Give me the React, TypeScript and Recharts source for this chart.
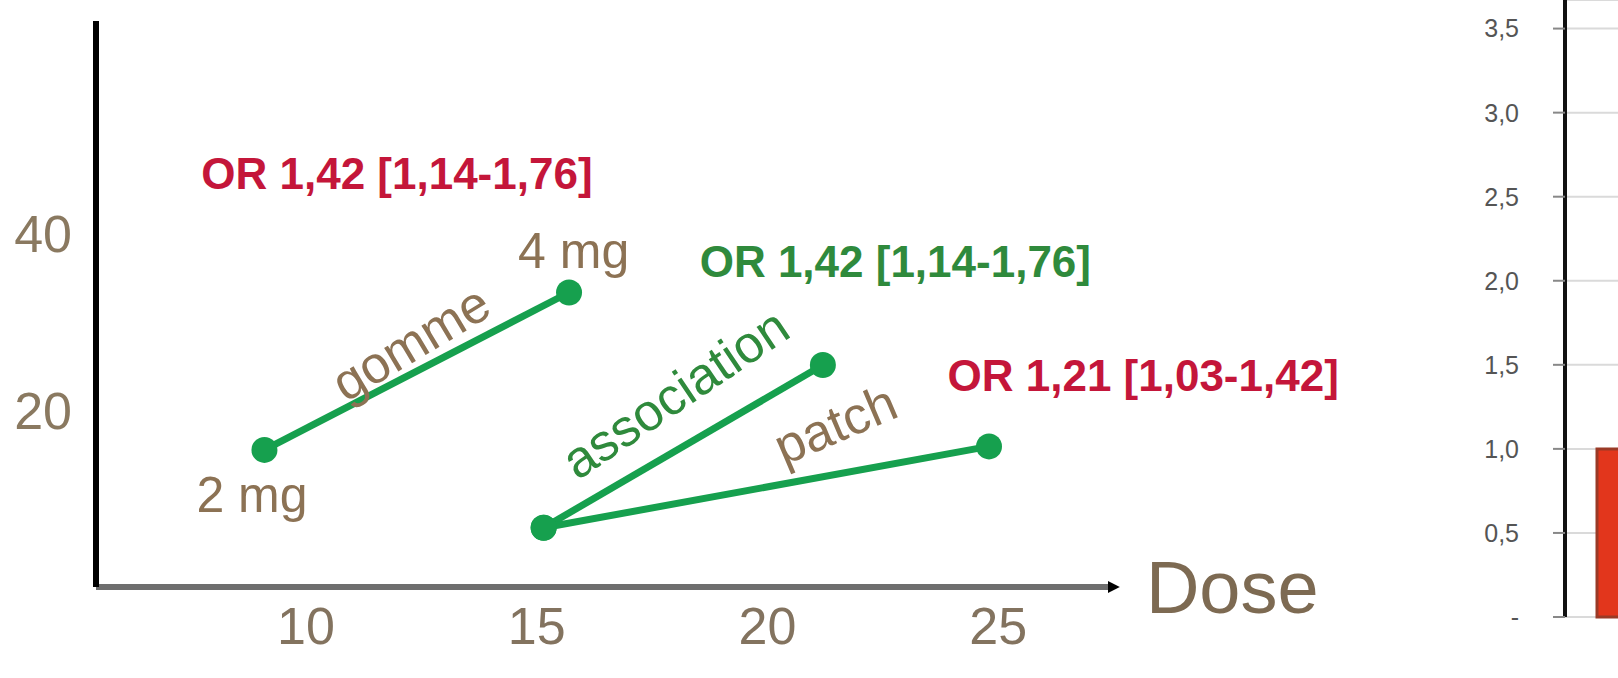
import React from "react"
import {
  ScatterChart,
  Scatter,
  XAxis,
  YAxis,
  ReferenceDot,
  BarChart,
  Bar,
  CartesianGrid,
} from "recharts"

// left panel: nicotine level vs dose
const doseTicks = [10, 15, 20, 25]
const levelTicks = [20, 40]

const gommeDoses = [9.1, 15.7]
const gommeLevels = [15.5, 33.3]
const associationDoses = [15.15, 21.2]
const associationLevels = [6.7, 25.1]
const patchDoses = [15.15, 24.8]
const patchLevels = [6.7, 15.9]

const noteTexts = [
  "OR 1,42 [1,14-1,76]",
  "4 mg",
  "2 mg",
  "gomme",
  "OR 1,42 [1,14-1,76]",
  "association",
  "patch",
  "OR 1,21 [1,03-1,42]",
  "Dose",
]
const noteDoses = [11.97, 15.8, 8.83, 12.27, 22.77, 18.0, 21.47, 28.14, 28.2]
const noteLevels = [46.8, 38.0, 10.45, 27.6, 36.8, 21.9, 18.4, 23.9, 0]

// right panel: odds ratios
const orCategories = ["gomme"]
const orValues = [1.0]
const orTicks = [0, 0.5, 1, 1.5, 2, 2.5, 3, 3.5]

const toPoints = (xs: number[], ys: number[]) => xs.map((x, i) => ({ dose: x, level: ys[i] }))

const gommeData = toPoints(gommeDoses, gommeLevels)
const associationData = toPoints(associationDoses, associationLevels)
const patchData = toPoints(patchDoses, patchLevels)
const barData = orCategories.map((name, i) => ({ name, value: orValues[i] }))

const FONT = "'Liberation Sans', Arial, sans-serif"
const RED = "#c4163a"
const GREEN_TXT = "#2f8a3c"
const TAN = "#8c7254"
const LINE_GREEN = "#16a04e"

const noteStyles = [
  { fill: RED, size: 44, weight: 700, angle: 0, anchor: "middle" },
  { fill: TAN, size: 50, weight: 400, angle: 0, anchor: "middle" },
  { fill: TAN, size: 50, weight: 400, angle: 0, anchor: "middle" },
  { fill: TAN, size: 52, weight: 400, angle: -31, anchor: "middle" },
  { fill: GREEN_TXT, size: 44, weight: 700, angle: 0, anchor: "middle" },
  { fill: GREEN_TXT, size: 52, weight: 400, angle: -34, anchor: "middle" },
  { fill: TAN, size: 52, weight: 400, angle: -23, anchor: "middle" },
  { fill: RED, size: 44, weight: 700, angle: 0, anchor: "middle" },
  { fill: "#7d6a52", size: 74, weight: 400, angle: 0, anchor: "start" },
]

const Knob = (props: any) => <circle cx={props.cx} cy={props.cy} r={13} fill={LINE_GREEN} />

function noteShape(i: number) {
  const s = noteStyles[i]
  return (p: any) => (
    <text
      x={p.cx}
      y={p.cy}
      fill={s.fill}
      fontSize={s.size}
      fontWeight={s.weight}
      fontFamily={FONT}
      textAnchor={s.anchor as any}
      dominantBaseline="central"
      transform={s.angle ? `rotate(${s.angle} ${p.cx} ${p.cy})` : undefined}
    >
      {noteTexts[i]}
    </text>
  )
}

const fmtOr = (v: number) => (v === 0 ? "-" : v.toFixed(1).replace(".", ","))

export default function App() {
  return (
    <div style={{ position: "fixed", left: 0, top: 0, width: 1618, height: 678, overflow: "hidden", background: "#fff" }}>
      <div style={{ position: "absolute", left: 0, top: 0 }}>
        <ScatterChart width={1400} height={678} margin={{ top: 21, right: 291, bottom: 31, left: 0 }}>
          <defs>
            <marker id="arrowHead" viewBox="0 0 10 10" refX="1" refY="5" markerWidth="2" markerHeight="2" orient="auto">
              <path d="M0,0 L10,5 L0,10 z" fill="#000" />
            </marker>
          </defs>
          <XAxis
            type="number"
            dataKey="dose"
            domain={[5.45, 27.4]}
            ticks={doseTicks}
            tickSize={0}
            tickMargin={20}
            height={60}
            axisLine={{ stroke: "#6e6e6e", strokeWidth: 6, markerEnd: "url(#arrowHead)" } as any}
            tick={{ fill: "#83735f", fontSize: 52, fontFamily: FONT }}
          />
          <YAxis
            type="number"
            dataKey="level"
            domain={[0, 64]}
            ticks={levelTicks}
            width={96}
            tickSize={0}
            tickMargin={24}
            axisLine={{ stroke: "#000", strokeWidth: 6 }}
            tick={{ fill: "#8a7960", fontSize: 52, fontFamily: FONT }}
          />
          <Scatter data={gommeData} line={{ stroke: LINE_GREEN, strokeWidth: 7 }} shape={Knob} isAnimationActive={false} />
          <Scatter data={associationData} line={{ stroke: LINE_GREEN, strokeWidth: 7 }} shape={Knob} isAnimationActive={false} />
          <Scatter data={patchData} line={{ stroke: LINE_GREEN, strokeWidth: 7 }} shape={Knob} isAnimationActive={false} />
          {noteTexts.map((t, i) => (
            <ReferenceDot key={i} x={noteDoses[i]} y={noteLevels[i]} r={0} ifOverflow="visible" shape={noteShape(i)} />
          ))}
        </ScatterChart>
      </div>

      <div style={{ position: "absolute", left: 1400, top: 0, width: 218, height: 678, overflow: "hidden" }}>
        <BarChart width={329} height={678} data={barData} margin={{ top: 0, right: 0, bottom: 0, left: 0 }} barCategoryGap={32}>
          <CartesianGrid vertical={false} stroke="#dadada" strokeWidth={2} />
          <XAxis dataKey="name" height={61} tick={false} axisLine={false} tickLine={false} />
          <YAxis
            domain={[0, 3.67]}
            ticks={orTicks}
            width={165}
            tickSize={12}
            tickMargin={34}
            tickFormatter={fmtOr}
            axisLine={{ stroke: "#111", strokeWidth: 4 }}
            tickLine={{ stroke: "#888", strokeWidth: 2 }}
            tick={{ fill: "#555", fontSize: 25, fontFamily: FONT }}
          />
          <Bar dataKey="value" fill="#e2361c" stroke="#9a3a26" strokeWidth={3} isAnimationActive={false} />
        </BarChart>
      </div>
    </div>
  )
}
